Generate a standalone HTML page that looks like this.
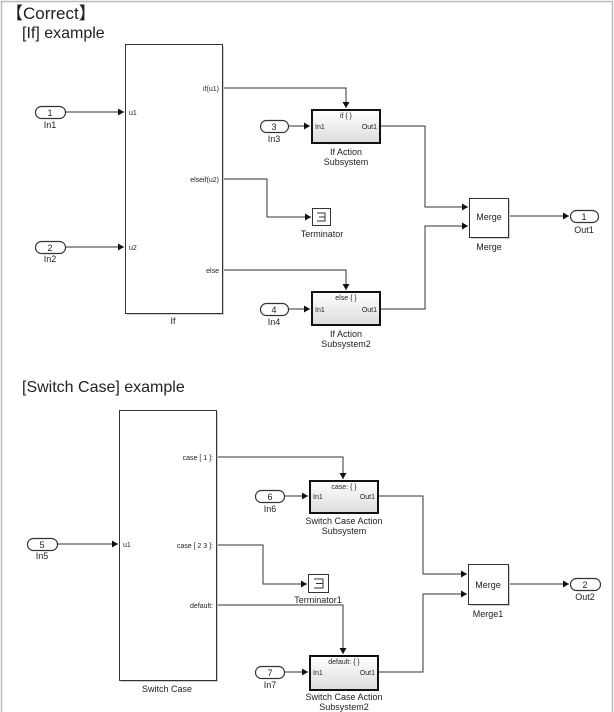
<!DOCTYPE html>
<html><head><meta charset="utf-8"><style>
html,body{margin:0;padding:0;background:#fff;}
svg{display:block;}
text{font-family:"Liberation Sans","Noto Sans CJK JP",sans-serif;fill:#222;}
.s{font-size:7px;}
.l{font-size:9px;}
</style></head><body>
<svg width="614" height="712" viewBox="0 0 614 712" xmlns="http://www.w3.org/2000/svg">
<defs>
<linearGradient id="g" x1="0" y1="0" x2="0" y2="1"><stop offset="0" stop-color="#fff"/><stop offset="1" stop-color="#dcdcdc"/></linearGradient>
<marker id="a" markerWidth="7" markerHeight="7" refX="6" refY="3.5" orient="auto" markerUnits="userSpaceOnUse"><path d="M0,0 L6,3.5 L0,7 z" fill="#111"/></marker>
</defs>
<rect x="1.5" y="1.5" width="611" height="712" fill="none" stroke="#bbb" stroke-width="1.5"/>
<text x="6" y="19" style="font-size:17px">【Correct】</text>
<text x="22" y="38" style="font-size:16px">[If] example</text>
<text x="22" y="392" style="font-size:16px">[Switch Case] example</text>

<g fill="none" stroke="#333" stroke-width="1">
<path d="M65,112 H124" marker-end="url(#a)"/>
<path d="M65,247 H124" marker-end="url(#a)"/>
<path d="M222,88 H346 V108" marker-end="url(#a)"/>
<path d="M222,179 H267 V217 H311" marker-end="url(#a)"/>
<path d="M222,270 H346 V290" marker-end="url(#a)"/>
<path d="M288,126 H310" marker-end="url(#a)"/>
<path d="M288,309 H310" marker-end="url(#a)"/>
<path d="M380,126 H425 V207 H468" marker-end="url(#a)"/>
<path d="M380,309 H425 V226 H468" marker-end="url(#a)"/>
<path d="M508,216 H569" marker-end="url(#a)"/>
<path d="M57,544 H118" marker-end="url(#a)"/>
<path d="M216,457 H343 V479" marker-end="url(#a)"/>
<path d="M216,545 H263 V584 H307" marker-end="url(#a)"/>
<path d="M216,605 H343 V654" marker-end="url(#a)"/>
<path d="M284,496 H308" marker-end="url(#a)"/>
<path d="M284,672 H308" marker-end="url(#a)"/>
<path d="M378,496 H423 V574 H467" marker-end="url(#a)"/>
<path d="M378,672 H423 V594 H467" marker-end="url(#a)"/>
<path d="M508,584 H569" marker-end="url(#a)"/>
</g>

<g fill="#ccc">
<rect x="127" y="46" width="97" height="269"/>
<rect x="121" y="412" width="97" height="270"/>
<rect x="471" y="200" width="39" height="39"/>
<rect x="470" y="566" width="40" height="40"/>
</g>
<g fill="#fff" stroke="#333" stroke-width="1">
<rect x="125.5" y="44.5" width="97" height="269"/>
<rect x="119.5" y="410.5" width="97" height="270"/>
<rect x="469.5" y="198.5" width="39" height="39"/>
<rect x="468.5" y="564.5" width="40" height="40"/>
<rect x="312.5" y="208.5" width="18" height="17"/>
<rect x="308.5" y="574.5" width="20" height="18"/>
</g>
<g fill="none" stroke="#333" stroke-width="1">
<path d="M317,213 H325 V221 H317 M319,217 H325"/>
<path d="M314,579 H323 V588 H314 M316,583.5 H323"/>
</g>
<g fill="url(#g)" stroke="#111" stroke-width="2">
<rect x="312" y="110" width="68" height="33"/>
<rect x="312" y="292" width="68" height="33"/>
<rect x="310" y="481" width="68" height="32"/>
<rect x="310" y="656" width="68" height="34"/>
</g>
<g fill="#fff" stroke="#333" stroke-width="1.2">
<rect x="35.5" y="106.5" width="30" height="12" rx="6"/>
<rect x="35.5" y="241.5" width="30" height="12" rx="6"/>
<rect x="260.5" y="120.5" width="28" height="12" rx="6"/>
<rect x="260.5" y="303.5" width="28" height="12" rx="6"/>
<rect x="570.5" y="210.5" width="28" height="12" rx="6"/>
<rect x="27.5" y="538.5" width="30" height="12" rx="6"/>
<rect x="255.5" y="490.5" width="29" height="12" rx="6"/>
<rect x="255.5" y="666.5" width="29" height="12" rx="6"/>
<rect x="570.5" y="578.5" width="30" height="12" rx="6"/>
</g>
<g class="l" text-anchor="middle">
<text x="50" y="116">1</text><text x="50" y="251">2</text>
<text x="274" y="130">3</text><text x="274" y="313">4</text>
<text x="584" y="220">1</text>
<text x="42" y="548">5</text><text x="270" y="500">6</text><text x="270" y="676">7</text>
<text x="585" y="588">2</text>
<text x="50" y="128">In1</text><text x="50" y="262">In2</text>
<text x="274" y="142">In3</text><text x="274" y="325">In4</text>
<text x="584" y="233">Out1</text>
<text x="42" y="559">In5</text><text x="270" y="512">In6</text><text x="270" y="688">In7</text>
<text x="585" y="600">Out2</text>
<text x="173" y="324">If</text>
<text x="167" y="692">Switch Case</text>
<text x="346" y="155">If Action</text><text x="346" y="165">Subsystem</text>
<text x="346" y="337">If Action</text><text x="346" y="347">Subsystem2</text>
<text x="322" y="237">Terminator</text>
<text x="318" y="603">Terminator1</text>
<text x="489" y="220">Merge</text><text x="489" y="250">Merge</text>
<text x="488" y="588">Merge</text><text x="488" y="617">Merge1</text>
<text x="344" y="524">Switch Case Action</text><text x="344" y="534">Subsystem</text>
<text x="344" y="700">Switch Case Action</text><text x="344" y="710">Subsystem2</text>
</g>
<g class="s">
<text x="129" y="115">u1</text><text x="129" y="250">u2</text>
<text x="219" y="91" text-anchor="end">if(u1)</text>
<text x="219" y="182" text-anchor="end">elseif(u2)</text>
<text x="219" y="273" text-anchor="end">else</text>
<text x="123" y="547">u1</text>
<text x="213" y="460" text-anchor="end">case [ 1 ]:</text>
<text x="213" y="548" text-anchor="end">case [ 2 3 ]:</text>
<text x="213" y="608" text-anchor="end">default:</text>
<text x="346" y="118" text-anchor="middle">if { }</text>
<text x="315" y="129">In1</text><text x="377" y="129" text-anchor="end">Out1</text>
<text x="346" y="300" text-anchor="middle">else { }</text>
<text x="315" y="312">In1</text><text x="377" y="312" text-anchor="end">Out1</text>
<text x="344" y="489" text-anchor="middle">case: { }</text>
<text x="313" y="499">In1</text><text x="375" y="499" text-anchor="end">Out1</text>
<text x="344" y="664" text-anchor="middle">default: { }</text>
<text x="313" y="675">In1</text><text x="375" y="675" text-anchor="end">Out1</text>
</g>
</svg>
</body></html>
